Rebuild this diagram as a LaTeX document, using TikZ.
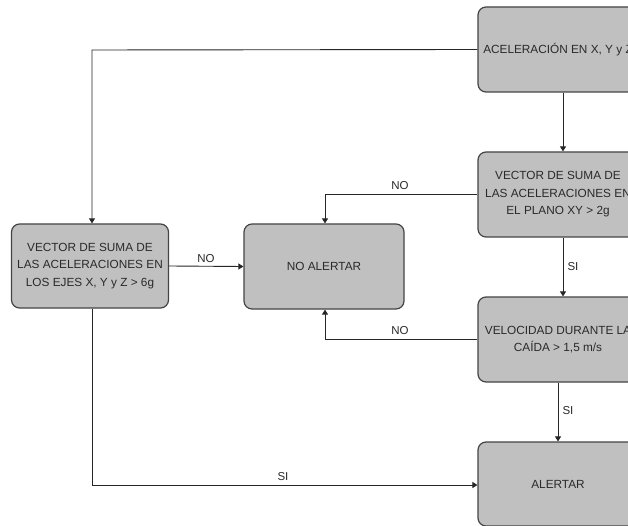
\documentclass[tikz,border=0pt]{standalone}
\usepackage{fontspec}
\setmainfont{Liberation Sans}
\usetikzlibrary{arrows.meta}
\definecolor{boxfill}{HTML}{C0C0C0}
\definecolor{boxline}{HTML}{444444}
\definecolor{txt}{HTML}{2A2A2A}
\begin{document}
\begin{tikzpicture}[x=1pt,y=-1pt,
  flowbox/.style={draw=boxline,fill=boxfill,line width=1.2pt,rounded corners=8pt,
    align=center,text=txt,inner sep=0pt,font=\fontsize{11.8}{17.5}\selectfont},
  conn/.style={draw=black!85,line width=0.9pt},
  arr/.style={conn,-{Triangle[width=6pt,length=5pt]}},
  lbl/.style={text=txt,font=\fontsize{11.5}{13}\selectfont,inner sep=1pt}]
\useasboundingbox (0,0) rectangle (628,526);
\clip (0,0) rectangle (628,526);
\fill[white] (0,0) rectangle (628,526);
\node[flowbox,minimum width=160pt,minimum height=85pt] (a) at (558,49.5) {ACELERACIÓN EN X, Y y Z};
\node[flowbox,minimum width=160pt,minimum height=85pt] (b) at (558,194.5) {VECTOR DE SUMA DE\\LAS ACELERACIONES EN\\EL PLANO XY > 2g};
\node[flowbox,minimum width=160pt,minimum height=85pt] (c) at (558,339.5) {VELOCIDAD DURANTE LA\\CAÍDA > 1,5 m/s};
\node[flowbox,minimum width=160pt,minimum height=84pt] (d) at (558,484) {ALERTAR};
\node[flowbox,minimum width=157pt,minimum height=84pt] (e) at (90,266) {VECTOR DE SUMA DE\\LAS ACELERACIONES EN\\LOS EJES X, Y y Z > 6g};
\node[flowbox,minimum width=160pt,minimum height=85pt] (f) at (324,266.5) {NO ALERTAR};
\coordinate (k1) at (92,50);
\coordinate (k2) at (325,194.5);
\coordinate (k3) at (325,339.5);
\coordinate (k4) at (92,485);
\coordinate (ab) at (563,0);
\draw[arr] (a.west) -- (k1) -- (k1 |- e.north);
\draw[arr] (ab |- a.south) -- (ab |- b.north);
\draw[arr] (b.west) -- (k2) -- (k2 |- f.north) ;
\draw[arr] (ab |- b.south) -- (ab |- c.north);
\draw[arr] (c.west) -- (k3) -- (k3 |- f.south);
\draw[arr] (c.south) -- (d.north);
\draw[arr] (e.east) -- (f.west);
\draw[arr] (k4 |- e.south) -- (k4) -- (k4 -| d.west);
\node[lbl] (l1) at (400,186) {NO};
\node[lbl] (l2) at (573,267) {SI};
\node[lbl] (l3) at (400,331) {NO};
\node[lbl] (l4) at (568,411) {SI};
\node[lbl] (l5) at (206,259) {NO};
\node[lbl] (l6) at (283,477) {SI};
\end{tikzpicture}
\end{document}
